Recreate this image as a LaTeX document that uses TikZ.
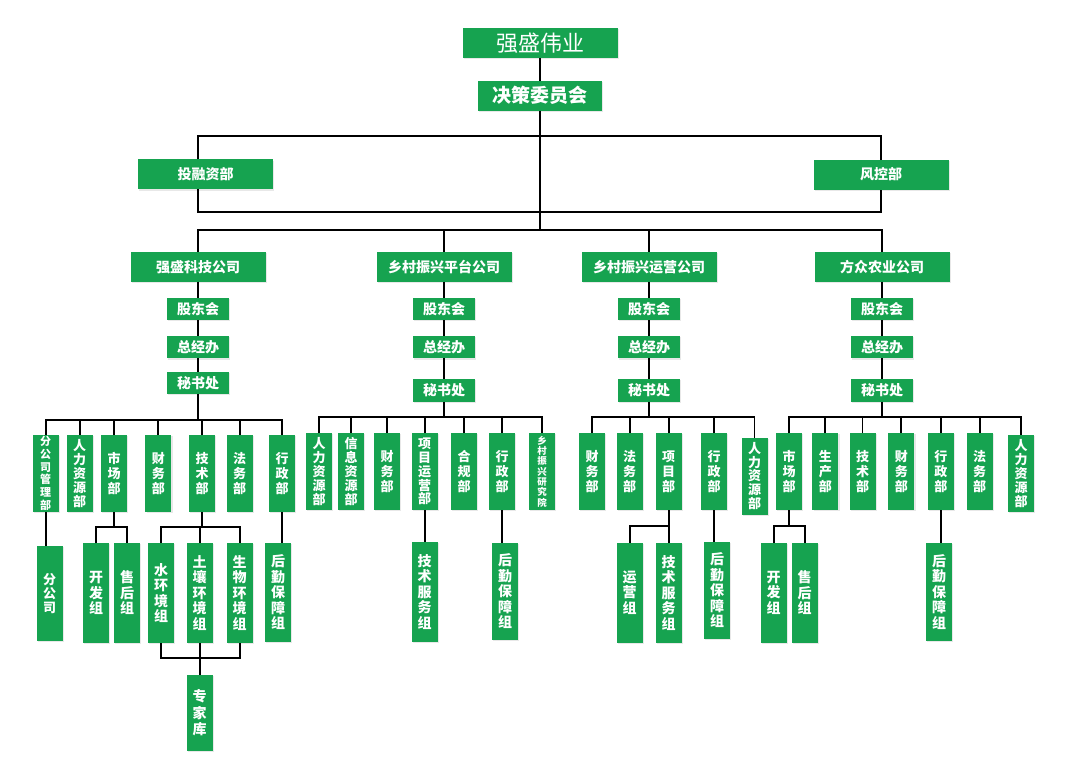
\documentclass[tikz,border=0pt]{standalone}
\usepackage{fontspec}
\newfontfamily\cjk{Noto Sans CJK SC}
\usetikzlibrary{shadows}
\definecolor{G}{RGB}{22,163,80}
\begin{document}
\begin{tikzpicture}[x=1pt,y=-1pt,
  conn/.style={line width=1.7pt, black},
  bx/.style={fill=G, text=white, inner sep=0pt, outer sep=0pt, align=center,
    drop shadow={shadow xshift=1.2pt, shadow yshift=-1.2pt, opacity=.18}},
  titlebox/.style={bx, minimum width=155pt, minimum height=30pt, font=\cjk\fontsize{22}{24}\selectfont},
  jcbox/.style={bx, minimum width=124pt, minimum height=30pt, font=\cjk\bfseries\fontsize{19}{21}\selectfont},
  topbox/.style={bx, minimum width=135pt, minimum height=30pt, font=\cjk\bfseries\fontsize{14}{16}\selectfont},
  comp/.style={bx, minimum width=135pt, minimum height=30pt, font=\cjk\bfseries\fontsize{14}{16}\selectfont},
  small/.style={bx, minimum width=62.5pt, minimum height=22.5pt, font=\cjk\bfseries\fontsize{14}{16}\selectfont},
  dept/.style={bx, minimum width=26pt, minimum height=77pt, font=\cjk\bfseries\fontsize{13}{15}\selectfont},
  deptv/.style={bx, minimum width=26pt, minimum height=77pt, font=\cjk\bfseries\fontsize{13}{13.8}\selectfont},
  sub/.style={bx, minimum width=26pt, minimum height=100pt, font=\cjk\bfseries\fontsize{14}{15.5}\selectfont},
]
\useasboundingbox (0,0) rectangle (1072,776);

% ---- top ----
\node[titlebox] (root) at (540,43.3) {强盛伟业};
\node[jcbox] (jc) at (540,95.7) {决策委员会};
\node[topbox] (tr) at (205.5,174.3) {投融资部};
\node[topbox] (fk) at (881,174.6) {风控部};

\coordinate (bl) at (198,135.7);
\coordinate (br) at (881,135.7);
\coordinate (cl) at (198,211.7);
\coordinate (cr) at (881,211.7);

\draw[conn] (root) -- (jc);
\draw[conn] (tr.north -| bl) -- (bl) -- (br) -- (fk.north);
\draw[conn] (tr.south -| bl) -- (cl) -- (cr) -- (fk.south);

% ---- companies ----
\node[comp] (c1) at (198,266.7) {强盛科技公司};
\node[comp] (c2) at (444,266.7) {乡村振兴平台公司};
\node[comp] (c3) at (649,266.7) {乡村振兴运营公司};
\node[comp] (c4) at (882,266.7) {方众农业公司};

\draw[conn] (jc.south) -- (jc.south |- 0,230);
\draw[conn] (c1.north) -- (c1.north |- 0,230) -- (c4.north |- 0,230) -- (c4.north);
\draw[conn] (c2.north) -- (c2.north |- 0,230);
\draw[conn] (c3.north) -- (c3.north |- 0,230);

% small boxes
\node[small] (g1) at (198,309) {股东会};
\node[small] (z1) at (198,347.2) {总经办};
\node[small] (m1) at (198,383) {秘书处};
\node[small] (g2) at (444,309) {股东会};
\node[small] (z2) at (444,347.2) {总经办};
\node[small] (m2) at (444,390.3) {秘书处};
\node[small] (g3) at (649,309) {股东会};
\node[small] (z3) at (649,347.2) {总经办};
\node[small] (m3) at (649,390.3) {秘书处};
\node[small] (g4) at (882,309) {股东会};
\node[small] (z4) at (882,347.2) {总经办};
\node[small] (m4) at (882,390.3) {秘书处};

\foreach \i in {1,2,3,4} {
  \draw[conn] (c\i) -- (g\i);
  \draw[conn] (g\i) -- (z\i);
  \draw[conn] (z\i) -- (m\i);
}

% ---- company 1 departments ----
\node[dept, font=\cjk\bfseries\fontsize{11}{12.7}\selectfont] (d11) at (45.7,473.5) {分\\公\\司\\管\\理\\部};
\node[deptv] (d12) at (79.7,473.5) {人\\力\\资\\源\\部};
\node[dept] (d13) at (114,473.5) {市\\场\\部};
\node[dept] (d14) at (158.3,473.5) {财\\务\\部};
\node[dept] (d15) at (202,473.5) {技\\术\\部};
\node[dept] (d16) at (239.7,473.5) {法\\务\\部};
\node[dept] (d17) at (282,473.5) {行\\政\\部};

\draw[conn] (m1.south) -- (m1.south |- 0,420);
\draw[conn] (d11.north) -- (d11.north |- 0,420) -- (d17.north |- 0,420) -- (d17.north);
\foreach \n in {d12,d13,d14,d15,d16}
  \draw[conn] (\n.north) -- (\n.north |- 0,420);

\node[sub, minimum height=95pt, font=\cjk\bfseries\fontsize{13}{14}\selectfont] (l11) at (49.7,593.2) {分\\公\\司};
\node[sub] (l12) at (96,593) {开\\发\\组};
\node[sub] (l13) at (127,593) {售\\后\\组};
\node[sub] (l14) at (161,593) {水\\环\\境\\组};
\node[sub] (l15) at (199.7,593) {土\\壤\\环\\境\\组};
\node[sub] (l16) at (239.7,593) {生\\物\\环\\境\\组};
\node[sub, minimum height=99pt] (l17) at (278,592.2) {后\\勤\\保\\障\\组};
\node[sub, minimum height=76pt, font=\cjk\bfseries\fontsize{14}{16.5}\selectfont] (l18) at (199.7,713) {专\\家\\库};

\draw[conn] (d11.south) -- (d11.south |- l11.north);
\draw[conn] (d13.south) -- (d13.south |- 0,526.7);
\draw[conn] (l12.north) -- (l12.north |- 0,526.7) -- (l13.north |- 0,526.7) -- (l13.north);
\draw[conn] (d15.south) -- (d15.south |- 0,526.7);
\draw[conn] (l14.north) -- (l14.north |- 0,526.7) -- (l16.north |- 0,526.7) -- (l16.north);
\draw[conn] (l15.north) -- (l15.north |- 0,526.7);
\draw[conn] (l14.south) -- (l14.south |- 0,657.7) -- (l16.south |- 0,657.7) -- (l16.south);
\draw[conn] (l15.south) -- (l18.north);
\draw[conn] (d17.south) -- (d17.south |- l17.north);

% ---- company 2 departments ----
\node[deptv] (d21) at (319,471.5) {人\\力\\资\\源\\部};
\node[deptv] (d22) at (351,471.5) {信\\息\\资\\源\\部};
\node[dept] (d23) at (387,471.5) {财\\务\\部};
\node[deptv] (d24) at (424.7,471.5) {项\\目\\运\\营\\部};
\node[dept] (d25) at (464,471.5) {合\\规\\部};
\node[dept] (d26) at (502,471.5) {行\\政\\部};
\node[dept, font=\cjk\bfseries\fontsize{9.5}{10.3}\selectfont] (d27) at (542,471.5) {乡\\村\\振\\兴\\研\\究\\院};

\draw[conn] (m2.south) -- (m2.south |- 0,417);
\draw[conn] (d21.north) -- (d21.north |- 0,417) -- (d27.north |- 0,417) -- (d27.north);
\foreach \n in {d22,d23,d24,d25,d26}
  \draw[conn] (\n.north) -- (\n.north |- 0,417);

\node[sub] (l21) at (424.7,591.7) {技\\术\\服\\务\\组};
\node[sub, minimum height=97.5pt] (l22) at (505,591.4) {后\\勤\\保\\障\\组};
\draw[conn] (d24.south) -- (l21.north);
\draw[conn] (d26.south) -- (d26.south |- l22.north);

% ---- company 3 departments ----
\node[dept] (d31) at (592,471.5) {财\\务\\部};
\node[dept] (d32) at (629.7,471.5) {法\\务\\部};
\node[dept] (d33) at (668.7,471.5) {项\\目\\部};
\node[dept] (d34) at (714,471.5) {行\\政\\部};
\node[deptv] (d35) at (754.5,476) {人\\力\\资\\源\\部};

\draw[conn] (m3.south) -- (m3.south |- 0,417);
\draw[conn] (d31.north) -- (d31.north |- 0,417) -- (d35.north |- 0,417) -- (d35.north);
\foreach \n in {d32,d33,d34}
  \draw[conn] (\n.north) -- (\n.north |- 0,417);

\node[sub] (l31) at (629.7,592.7) {运\\营\\组};
\node[sub] (l32) at (668.7,592.7) {技\\术\\服\\务\\组};
\node[sub, minimum height=97pt] (l33) at (717,590.4) {后\\勤\\保\\障\\组};
\draw[conn] (d33.south) -- (l32.north);
\draw[conn] (l31.north) -- (l31.north |- 0,526) -- (l32.north |- 0,526);
\draw[conn] (d34.south) -- (d34.south |- l33.north);

% ---- company 4 departments ----
\node[dept] (d41) at (789,471.5) {市\\场\\部};
\node[dept] (d42) at (825.3,471.5) {生\\产\\部};
\node[dept] (d43) at (862.5,471.5) {技\\术\\部};
\node[dept] (d44) at (901.3,471.5) {财\\务\\部};
\node[dept] (d45) at (940.8,471.5) {行\\政\\部};
\node[dept] (d46) at (979.7,471.5) {法\\务\\部};
\node[deptv] (d47) at (1021,473.5) {人\\力\\资\\源\\部};

\draw[conn] (m4.south) -- (m4.south |- 0,417);
\draw[conn] (d41.north) -- (d41.north |- 0,417) -- (d47.north |- 0,417) -- (d47.north);
\foreach \n in {d42,d43,d44,d45,d46}
  \draw[conn] (\n.north) -- (\n.north |- 0,417);

\node[sub] (l41) at (773.7,592.7) {开\\发\\组};
\node[sub] (l42) at (804.7,592.7) {售\\后\\组};
\node[sub, minimum height=97.7pt] (l43) at (939,591.9) {后\\勤\\保\\障\\组};
\draw[conn] (d41.south) -- (d41.south |- 0,526);
\draw[conn] (l41.north) -- (l41.north |- 0,526) -- (l42.north |- 0,526) -- (l42.north);
\draw[conn] (d45.south) -- (d45.south |- l43.north);

\end{tikzpicture}
\end{document}
